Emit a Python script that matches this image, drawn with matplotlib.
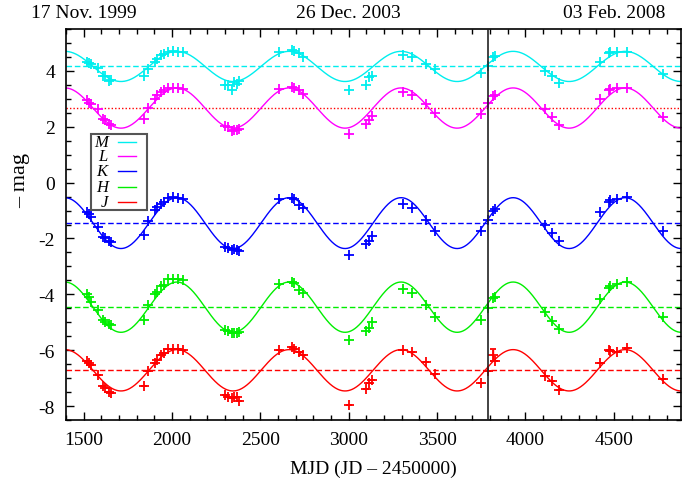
import numpy as np
import matplotlib
matplotlib.use("Agg")
import matplotlib.pyplot as plt
from matplotlib.ticker import MultipleLocator
from matplotlib.patches import Rectangle
from matplotlib.lines import Line2D

# epochs of observation (JD - 2450000)
mjd = [1520, 1532, 1541, 1583, 1611, 1623, 1645, 1654,
       1841, 1865, 1903, 1916, 1940, 1953, 1978, 2006, 2035, 2063,
       2301, 2316, 2341, 2353, 2369, 2379,
       2603, 2678, 2692, 2716, 2741,
       3004, 3099, 3112, 3129,
       3309, 3356, 3437, 3488,
       3746, 3790, 3818, 3827,
       4110, 4148, 4191,
       4424, 4473, 4481, 4518, 4575,
       4778]

# - mag in each band
mag_M = [4.31, 4.29, 4.25, 4.10, 3.83, 3.81, 3.65, 3.69,
         3.83, 4.07, 4.33, 4.43, 4.57, 4.62, 4.69, 4.70, 4.69, 4.67,
         3.50, 3.48, 3.30, 3.60, 3.54, 3.65,
         4.67, 4.76, 4.73, 4.64, 4.49,
         3.33, 3.50, 3.77, 3.81,
         4.57, 4.49, 4.25, 4.05,
         3.93, 4.19, 4.49, 4.55,
         4.01, 3.81, 3.57,
         4.33, 4.64, 4.69, 4.69, 4.67,
         3.89]
mag_L = [2.94, 2.86, 2.82, 2.62, 2.26, 2.23, 2.11, 2.07,
         2.29, 2.67, 3.00, 3.14, 3.24, 3.30, 3.38, 3.40, 3.39, 3.36,
         2.02, 1.98, 1.86, 1.90, 1.90, 1.93,
         3.36, 3.42, 3.38, 3.30, 3.18,
         1.75, 2.11, 2.23, 2.38,
         3.26, 3.14, 2.82, 2.50,
         2.46, 2.86, 3.10, 3.14,
         2.64, 2.35, 2.07,
         2.98, 3.30, 3.36, 3.38, 3.38,
         2.35]
mag_K = [-1.05, -1.11, -1.23, -1.58, -1.94, -2.00, -2.10, -2.14,
         -1.88, -1.38, -0.99, -0.87, -0.75, -0.69, -0.55, -0.51, -0.55, -0.57,
         -2.30, -2.33, -2.42, -2.38, -2.42, -2.45,
         -0.60, -0.55, -0.57, -0.79, -0.90,
         -2.60, -2.21, -2.10, -1.90,
         -0.75, -0.90, -1.35, -1.74,
         -1.74, -1.35, -1.02, -0.93,
         -1.52, -1.82, -2.10,
         -1.05, -0.69, -0.63, -0.57, -0.51,
         -1.74]
mag_H = [-4.00, -4.08, -4.26, -4.56, -4.92, -4.98, -5.07, -5.10,
         -4.92, -4.38, -4.00, -3.90, -3.69, -3.67, -3.45, -3.45, -3.45, -3.50,
         -5.27, -5.33, -5.39, -5.39, -5.39, -5.36,
         -3.64, -3.57, -3.61, -3.85, -3.96,
         -5.64, -5.33, -5.21, -5.00,
         -3.81, -3.96, -4.40, -4.80,
         -4.92, -4.48, -4.14, -4.08,
         -4.64, -4.95, -5.24,
         -4.17, -3.76, -3.69, -3.64, -3.57,
         -4.80]
mag_J = [-6.40, -6.46, -6.52, -6.88, -7.30, -7.36, -7.48, -7.54,
         -7.30, -6.76, -6.46, -6.35, -6.17, -6.11, -5.95, -5.95, -5.95, -6.01,
         -7.60, -7.66, -7.71, -7.69, -7.69, -7.81,
         -5.99, -5.87, -5.95, -6.07, -6.17,
         -7.95, -7.38, -7.18, -7.06,
         -5.99, -6.07, -6.43, -6.86,
         -7.18, -6.76, -6.17, -6.38,
         -6.94, -7.12, -7.42,
         -6.46, -5.99, -6.02, -6.05, -5.93,
         -7.02]
err_J = [0.0] * 39 + [0.21] + [0.0] * 10

bands = ['M', 'L', 'K', 'H', 'J']
colors = ['#00eeee', '#ff00ff', '#0000ff', '#00ee00', '#ff0000']

# sine fit: mean, amplitude, common period and epoch of maximum
fit_mean = [4.16, 2.67, -1.45, -4.46, -6.72]
fit_amp = [0.54, 0.72, 0.91, 0.90, 0.74]
period = 634.0
t_max = 2028.0

date_pos = [1500, 3000, 4500]
date_labels = ['17 Nov. 1999', '26 Dec. 2003', '03 Feb. 2008']
vline_mjd = 3790


def main():
    plt.rcParams['font.family'] = ['Liberation Serif', 'DejaVu Serif']

    fig = plt.figure(figsize=(6.82, 4.81), dpi=100)
    ax = fig.add_axes([66 / 682, 60 / 481, 615 / 682, 391 / 481])

    t = np.linspace(1400, 4880, 1000)
    all_mags = [mag_M, mag_L, mag_K, mag_H, mag_J]
    for i, name in enumerate(bands):
        c = colors[i]
        model = fit_mean[i] + fit_amp[i] * np.cos(2 * np.pi * (t - t_max) / period)
        ax.plot(t, model, color=c, lw=1.0, zorder=2)
        if name == 'L':
            ax.axhline(fit_mean[i], color='#ff0000', lw=1.0, ls=(0, (1, 1.5)), zorder=1)
        else:
            ax.axhline(fit_mean[i], color=c, lw=1.0, ls=(0, (4, 2)), zorder=1)
        if name == 'J':
            ax.errorbar(mjd, all_mags[i], yerr=err_J, fmt='+', color=c,
                        ms=6.5, mew=1.3, elinewidth=1.0, capsize=2.5, zorder=3)
        else:
            ax.plot(mjd, all_mags[i], '+', color=c, ms=6.5, mew=1.3, zorder=3)

    ax.axvline(vline_mjd, color='#222222', lw=1.2, zorder=4)

    ax.set_xlim(1400, 4880)
    ax.set_ylim(-8.5, 5.5)
    ax.xaxis.set_major_locator(MultipleLocator(500))
    ax.xaxis.set_minor_locator(MultipleLocator(100))
    ax.yaxis.set_major_locator(MultipleLocator(2))
    ax.yaxis.set_minor_locator(MultipleLocator(0.5))
    ax.yaxis.set_major_formatter(plt.FuncFormatter(lambda v, p: '%d' % v))
    ax.tick_params(which='both', direction='in', top=True, right=True, labelsize=14)
    ax.tick_params(which='major', length=6, width=1.0)
    ax.tick_params(which='minor', length=3.5, width=1.0)
    ax.tick_params(axis='x', pad=8)
    ax.tick_params(axis='y', pad=8)
    for s in ax.spines.values():
        s.set_linewidth(1.2)

    ax.set_xlabel('MJD (JD – 2450000)', fontsize=14, labelpad=8)
    ax.set_ylabel('– mag', fontsize=16)
    ax.yaxis.set_label_coords(-0.058, 0.614)

    for x, lab in zip(date_pos, date_labels):
        ax.annotate(lab, xy=(x, 1.0), xycoords=('data', 'axes fraction'),
                    xytext=(0, 12), textcoords='offset points',
                    ha='center', va='center', fontsize=14)

    # legend box, drawn by hand so the labels sit right-aligned on the left
    ax.add_patch(Rectangle((0.040, 0.538), 0.092, 0.193, transform=ax.transAxes,
                           facecolor='white', edgecolor='#555555', lw=1.5, zorder=5))
    ys = [0.712, 0.675, 0.636, 0.596, 0.558]
    for i, name in enumerate(bands):
        ax.text(0.068, ys[i], name, transform=ax.transAxes, ha='right', va='center',
                fontsize=12, style='italic', zorder=6)
        ax.add_line(Line2D([0.085, 0.114], [ys[i], ys[i]], transform=ax.transAxes,
                           color=colors[i], lw=1.0, zorder=6))

    fig.savefig('out.png', dpi=100)


if __name__ == "__main__":
    main()
